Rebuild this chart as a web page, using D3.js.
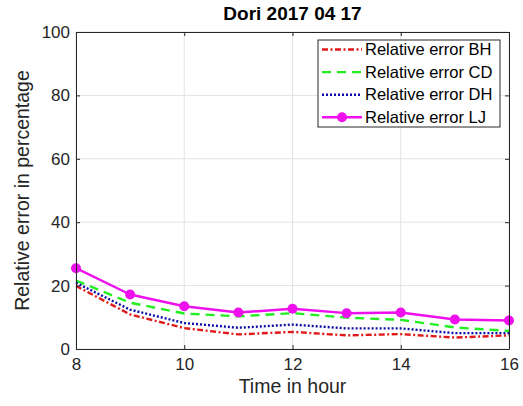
<!DOCTYPE html>
<html>
<head>
<meta charset="utf-8">
<script src="https://cdn.jsdelivr.net/npm/d3@7"></script>
<style>
  html, body { margin: 0; padding: 0; background: #fff; }
  svg { display: block; font-family: "Liberation Sans", Arial, Helvetica, sans-serif; }
</style>
</head>
<body>
<svg id="chart" width="523" height="406"></svg>
<script>
// Hours of the day
const hours = [8, 9, 10, 11, 12, 13, 14, 15, 16];

// Relative error (%) of each model
const errorBH = [19.9, 10.9, 6.6, 4.6, 5.4, 4.3, 4.7, 3.6, 4.3];
const errorCD = [21.6, 14.6, 11.2, 10.3, 11.3, 9.9, 9.2, 6.8, 5.7];
const errorDH = [20.9, 12.4, 8.2, 6.7, 7.7, 6.5, 6.5, 5.0, 5.0];
const errorLJ = [25.5, 17.2, 13.5, 11.5, 12.7, 11.3, 11.5, 9.3, 9.0];

const xTicks = [8, 10, 12, 14, 16];
const yTicks = [0, 20, 40, 60, 80, 100];

const seriesNames = ["Relative error BH", "Relative error CD", "Relative error DH", "Relative error LJ"];
const seriesValues = [errorBH, errorCD, errorDH, errorLJ];

const styles = [
  { color: "#e01a1a", dash: "6,2.5,2,2.5", marker: false },
  { color: "#22ee22", dash: "9,6", marker: false },
  { color: "#0c0ca8", dash: "2,2", marker: false },
  { color: "#ee11ee", dash: null, marker: true }
];

const svg = d3.select("#chart");
const margin = { left: 76, right: 14, top: 32, bottom: 57 };
const W = 523, H = 406;

const x = d3.scaleLinear().domain([8, 16]).range([margin.left, W - margin.right]);
const y = d3.scaleLinear().domain([0, 100]).range([H - margin.bottom, margin.top]);

const textColor = "#262626";

// Grid
const grid = svg.append("g");
grid.selectAll("line.gx").data(xTicks).join("line")
  .attr("x1", d => x(d)).attr("x2", d => x(d))
  .attr("y1", y(0)).attr("y2", y(100))
  .attr("stroke", "#e3e3e3").attr("stroke-width", 1);
grid.selectAll("line.gy").data(yTicks).join("line")
  .attr("x1", x(8)).attr("x2", x(16))
  .attr("y1", d => y(d)).attr("y2", d => y(d))
  .attr("stroke", "#e3e3e3").attr("stroke-width", 1);

// Axes with inward ticks
const tickLen = 4;
const xAxisB = d3.axisBottom(x).tickValues(xTicks).tickSizeInner(-tickLen).tickSizeOuter(0).tickPadding(9);
const yAxisL = d3.axisLeft(y).tickValues(yTicks).tickSizeInner(-tickLen).tickSizeOuter(0).tickPadding(6);
const xAxisT = d3.axisTop(x).tickValues(xTicks).tickSizeInner(-tickLen).tickSizeOuter(0).tickFormat("");
const yAxisR = d3.axisRight(y).tickValues(yTicks).tickSizeInner(-tickLen).tickSizeOuter(0).tickFormat("");

function styleAxis(g) {
  g.selectAll("path").attr("stroke", textColor).attr("stroke-width", 1);
  g.selectAll("line").attr("stroke", textColor).attr("stroke-width", 1);
  g.selectAll("text").attr("fill", textColor).style("font-size", "17px")
    .style("font-family", "'Liberation Sans', Arial, sans-serif");
}

// Series lines
const line = d3.line().x((d, i) => x(hours[i])).y(d => y(d));
const plot = svg.append("g");
seriesValues.forEach((vals, k) => {
  const s = styles[k];
  plot.append("path")
    .datum(vals)
    .attr("d", line)
    .attr("fill", "none")
    .attr("stroke", s.color)
    .attr("stroke-width", 2.4)
    .attr("stroke-dasharray", s.dash)
    .attr("stroke-linejoin", "round");
  if (s.marker) {
    plot.selectAll(null).data(vals).join("circle")
      .attr("cx", (d, i) => x(hours[i]))
      .attr("cy", d => y(d))
      .attr("r", 5)
      .attr("fill", s.color);
  }
});

svg.append("g").attr("transform", `translate(0,${y(0)})`).call(xAxisB).call(styleAxis)
  .selectAll("text").attr("dy", "0.71em");
svg.append("g").attr("transform", `translate(${x(8)},0)`).call(yAxisL).call(styleAxis);
svg.append("g").attr("transform", `translate(0,${y(100)})`).call(xAxisT).call(styleAxis);
svg.append("g").attr("transform", `translate(${x(16)},0)`).call(yAxisR).call(styleAxis);

// Title and axis labels
svg.append("text")
  .attr("x", (x(8) + x(16)) / 2).attr("y", 20)
  .attr("text-anchor", "middle")
  .style("font-size", "19px").style("font-weight", "bold")
  .attr("fill", "#000")
  .text("Dori 2017 04 17");

svg.append("text")
  .attr("x", (x(8) + x(16)) / 2).attr("y", 393)
  .attr("text-anchor", "middle")
  .style("font-size", "19.5px")
  .attr("fill", textColor)
  .text("Time in hour");

svg.append("text")
  .attr("transform", `translate(29,${(y(0) + y(100)) / 2}) rotate(-90)`)
  .attr("text-anchor", "middle")
  .style("font-size", "19.5px")
  .attr("fill", textColor)
  .text("Relative error in percentage");

// Legend
const lg = svg.append("g");
const lgX = 318, lgY = 40, lgW = 182, lgH = 87;
lg.append("rect")
  .attr("x", lgX).attr("y", lgY).attr("width", lgW).attr("height", lgH)
  .attr("fill", "#fff").attr("stroke", textColor).attr("stroke-width", 1);
seriesNames.forEach((name, k) => {
  const s = styles[k];
  const cy = lgY + 9.5 + k * 22.6;
  lg.append("line")
    .attr("x1", lgX + 4).attr("x2", lgX + 44)
    .attr("y1", cy).attr("y2", cy)
    .attr("stroke", s.color).attr("stroke-width", 2.4)
    .attr("stroke-dasharray", s.dash);
  if (s.marker) {
    lg.append("circle").attr("cx", lgX + 24).attr("cy", cy).attr("r", 5).attr("fill", s.color);
  }
  lg.append("text")
    .attr("x", lgX + 47).attr("y", cy)
    .attr("dy", "0.35em")
    .style("font-size", "16.5px")
    .attr("fill", "#000")
    .text(name);
});
</script>
</body>
</html>
